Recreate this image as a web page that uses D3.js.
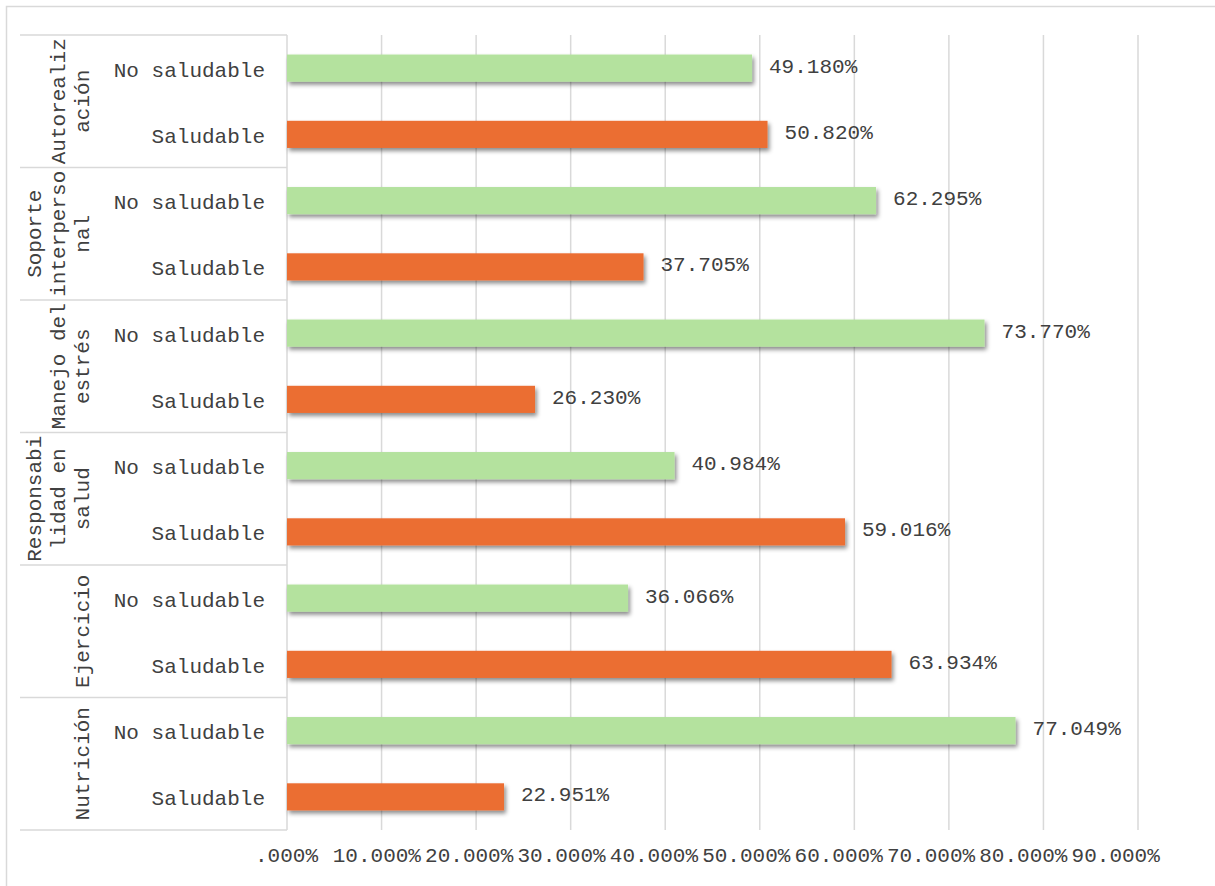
<!DOCTYPE html>
<html>
<head>
<meta charset="utf-8">
<script src="https://cdn.jsdelivr.net/npm/d3@7"></script>
<style>
  html, body { margin: 0; padding: 0; background: #fff; }
  svg { display: block; }
  text { font-family: "Courier New", "Liberation Mono", monospace; fill: #404040; }
</style>
</head>
<body>
<svg id="chart" width="1215" height="886"></svg>
<script>
// Health-promoting lifestyle dimensions, split into two levels
const groups = ["Autorealización", "Soporte interpersonal", "Manejo del estrés",
                "Responsabilidad en salud", "Ejercicio", "Nutrición"];
// Wrapped group labels as they appear in the category column
const groupLabelLines = [
  ["Autorealiz", "ación"],
  ["Soporte", "interperso", "nal"],
  ["Manejo del", "estrés"],
  ["Responsabi", "lidad en", "salud"],
  ["Ejercicio"],
  ["Nutrición"]
];
const levels = ["No saludable", "Saludable"];
const noSaludable = [49.180, 62.295, 73.770, 40.984, 36.066, 77.049];
const saludable   = [50.820, 37.705, 26.230, 59.016, 63.934, 22.951];
const xTicks = [0, 10, 20, 30, 40, 50, 60, 70, 80, 90];

const colors = { "No saludable": "#b4e29e", "Saludable": "#eb6e32" };

// One row per group/level pair, top to bottom
const rows = [];
groups.forEach((g, i) => {
  rows.push({ group: g, level: levels[0], value: noSaludable[i] });
  rows.push({ group: g, level: levels[1], value: saludable[i] });
});
rows.forEach((r, i) => r.id = i);

const svg = d3.select("#chart");
const plotLeft = 287, plotRight = 1138, plotTop = 35, plotBottom = 830;
const fontSize = 21;
const gridColor = "#d9d9d9";

const x = d3.scaleLinear().domain([0, 90]).range([plotLeft, plotRight]);
const y = d3.scaleBand().domain(rows.map(r => r.id)).range([plotTop, plotBottom])
  .paddingInner(0.59).paddingOuter(0.295);
const yGroup = d3.scaleBand().domain(groups).range([plotTop, plotBottom]);

// Drop shadow for the bars
const defs = svg.append("defs");
const f = defs.append("filter").attr("id", "shadow")
  .attr("x", "-5%").attr("y", "-30%").attr("width", "115%").attr("height", "190%");
f.append("feDropShadow").attr("dx", 2).attr("dy", 3).attr("stdDeviation", 2)
  .attr("flood-color", "#000").attr("flood-opacity", 0.45);

// Chart frame
svg.append("rect").attr("x", 6.5).attr("y", 6.5).attr("width", 1240).attr("height", 900)
  .attr("fill", "none").attr("stroke", gridColor).attr("stroke-width", 1.5);

// Vertical gridlines
svg.append("g").selectAll("line").data(xTicks.filter(d => d > 0)).join("line")
  .attr("x1", d => x(d)).attr("x2", d => x(d))
  .attr("y1", plotTop).attr("y2", plotBottom)
  .attr("stroke", gridColor).attr("stroke-width", 1.5);

// Category table: group separators and axis line
svg.append("g").selectAll("line").data(groups.map(g => yGroup(g)).concat([plotBottom])).join("line")
  .attr("x1", 20).attr("x2", plotLeft)
  .attr("y1", d => d).attr("y2", d => d)
  .attr("stroke", gridColor).attr("stroke-width", 1.5);
svg.append("line").attr("x1", plotLeft).attr("x2", plotLeft).attr("y1", plotTop).attr("y2", plotBottom)
  .attr("stroke", gridColor).attr("stroke-width", 1.5);

// Bars
svg.append("g").selectAll("rect").data(rows).join("rect")
  .attr("x", x(0)).attr("y", d => y(d.id))
  .attr("width", d => x(d.value) - x(0)).attr("height", y.bandwidth())
  .attr("fill", d => colors[d.level])
  .attr("filter", "url(#shadow)");

// Value labels
svg.append("g").selectAll("text").data(rows).join("text")
  .attr("x", d => x(d.value) + 17).attr("y", d => y(d.id) + y.bandwidth() / 2 - 1)
  .attr("dominant-baseline", "central")
  .attr("font-size", fontSize)
  .text(d => d.value.toFixed(3) + "%");

// Level labels
svg.append("g").selectAll("text").data(rows).join("text")
  .attr("x", 265).attr("y", d => y(d.id) + y.bandwidth() / 2 + 3)
  .attr("text-anchor", "end").attr("dominant-baseline", "central")
  .attr("font-size", fontSize)
  .text(d => d.level);

// Rotated group labels
const lineStep = 24, lastLineX = 83;
const gl = svg.append("g").selectAll("g").data(groups).join("g");
gl.each(function(g, i) {
  const lines = groupLabelLines[i];
  const cy = yGroup(g) + yGroup.bandwidth() / 2;
  lines.forEach((ln, k) => {
    const lx = lastLineX - (lines.length - 1 - k) * lineStep;
    d3.select(this).append("text")
      .attr("transform", `translate(${lx},${cy}) rotate(-90)`)
      .attr("text-anchor", "middle").attr("dominant-baseline", "central")
      .attr("font-size", fontSize)
      .text(ln);
  });
});

// X axis tick labels: packed edge to edge, so they drift left of their ticks
const xAxis = d3.axisBottom(x).tickValues(xTicks).tickSize(0).tickPadding(0)
  .tickFormat(d => d === 0 ? ".000%" : d.toFixed(3) + "%");
const ax = svg.append("g").attr("transform", `translate(0,${plotBottom})`).call(xAxis);
ax.select(".domain").remove();
ax.selectAll("text")
  .attr("y", 26).attr("dy", null).attr("dominant-baseline", "central")
  .attr("dx", d => d === 0 ? -1 : -(3 + d * 0.22))
  .attr("font-size", fontSize)
  .attr("font-family", "\"Courier New\", \"Liberation Mono\", monospace")
  .attr("fill", "#404040");
</script>
</body>
</html>
